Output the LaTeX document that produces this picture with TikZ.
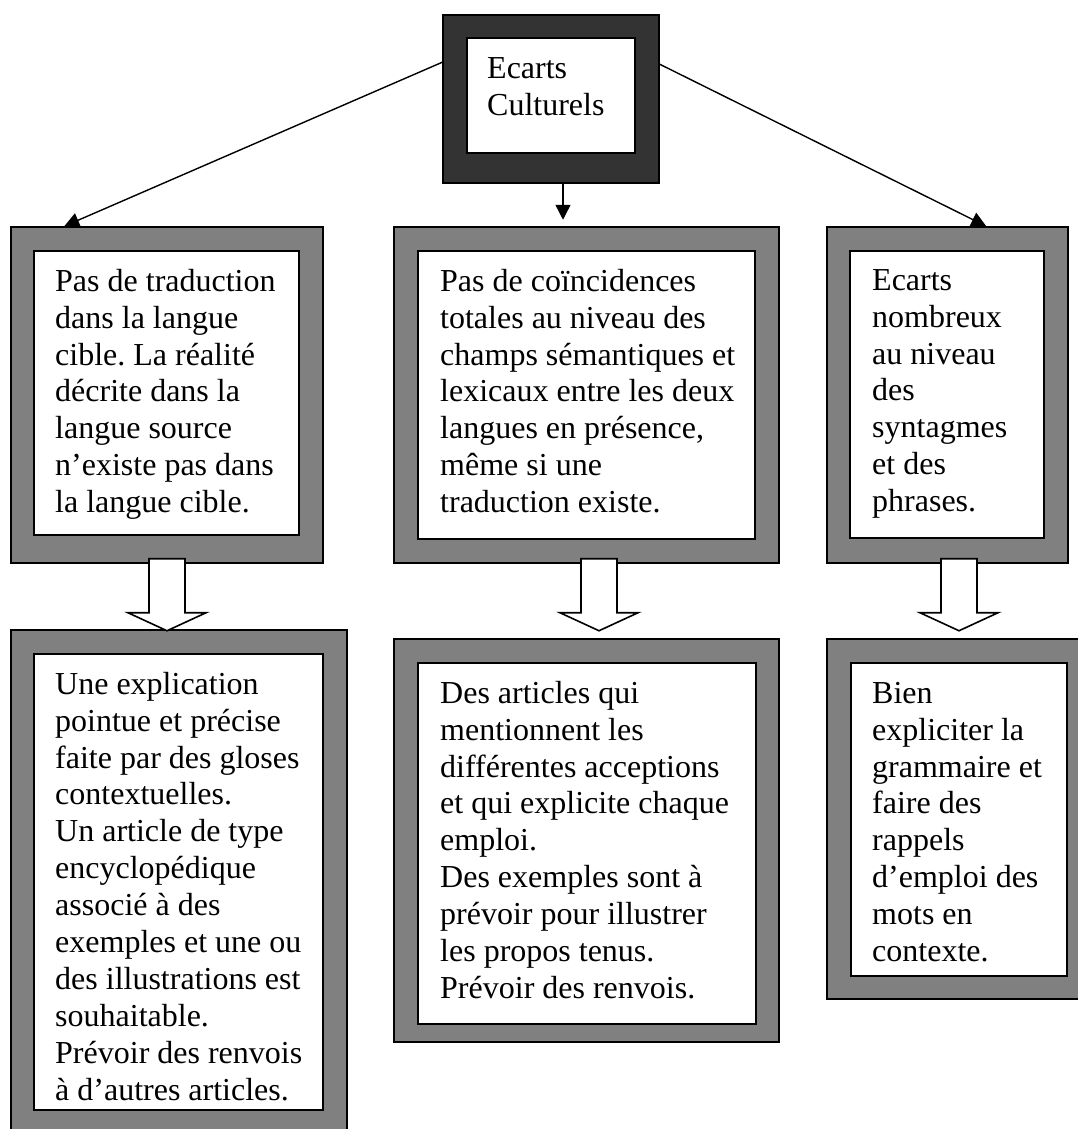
\documentclass[tikz,border=0pt]{standalone}
\usepackage{fontspec}
\setmainfont{Liberation Serif}
\usetikzlibrary{arrows.meta,calc}
\definecolor{framegray}{HTML}{808080}
\definecolor{framedark}{HTML}{333333}
\tikzset{
  outerframe/.style={draw=black, line width=1.5pt, fill=framegray, inner sep=0pt},
  darkframe/.style={outerframe, fill=framedark},
  innerframe/.style={draw=black, line width=1.8pt, fill=white, inner sep=0pt},
  txt/.style={anchor=north west, inner sep=0pt, align=left, font=\fontsize{32}{36.9}\selectfont},
  conn/.style={line width=1.4pt, -{Triangle[length=15pt,width=15pt]}},
  hollow/.style={draw=black, line width=1.6pt, fill=white, line join=miter},
}
\newcommand{\firstline}{\rule{0pt}{25pt}}
\frenchspacing
\begin{document}
\begin{tikzpicture}[x=1pt,y=-1pt]
\useasboundingbox (0,0) rectangle (1078,1129);
\clip (0,0) rectangle (1078,1129);

% top box
\node[darkframe, minimum width=216pt, minimum height=168pt] (T) at (551,99) {};
\node[innerframe, minimum width=168pt, minimum height=115pt] (Ti) at (551,95.5) {};
\node[txt] (Tt) at (487,53) {\firstline Ecarts\\Culturels};

% row 1
\node[outerframe, minimum width=312pt, minimum height=336pt] (L1) at (167,395) {};
\node[innerframe, minimum width=265pt, minimum height=284pt] (L1i) at (166.5,393) {};
\node[outerframe, minimum width=385pt, minimum height=336pt] (M1) at (586.5,395) {};
\node[innerframe, minimum width=337pt, minimum height=288pt] (M1i) at (586.5,395) {};
\node[outerframe, minimum width=241pt, minimum height=336pt] (R1) at (947.5,395) {};
\node[innerframe, minimum width=194pt, minimum height=287pt] (R1i) at (947,394.5) {};

\node[txt] (L1t) at (55,266) {\firstline Pas de traduction\\dans la langue\\cible. La réalité\\décrite dans la\\langue source\\n’existe pas dans\\la langue cible.};
\node[txt] (M1t) at (440,266) {\firstline Pas de coïncidences\\totales au niveau des\\champs sémantiques et\\lexicaux entre les deux\\langues en présence,\\même si une\\traduction existe.};
\node[txt] (R1t) at (872,265) {\firstline Ecarts\\nombreux\\au niveau\\des\\syntagmes\\et des\\phrases.};

% row 2
\node[outerframe, minimum width=336pt, minimum height=510pt] (L2) at (179,885) {};
\node[innerframe, minimum width=289pt, minimum height=456pt] (L2i) at (178.5,882) {};
\node[outerframe, minimum width=385pt, minimum height=403pt] (M2) at (586.5,840.5) {};
\node[innerframe, minimum width=338pt, minimum height=361pt] (M2i) at (587,843.5) {};
\node[outerframe, minimum width=255pt, minimum height=360pt] (R2) at (954.5,819) {};
\node[innerframe, minimum width=216pt, minimum height=313pt] (R2i) at (959,819.5) {};

\node[txt] (L2t) at (55,669) {\firstline Une explication\\pointue et précise\\faite par des gloses\\contextuelles.\\Un article de type\\encyclopédique\\associé à des\\exemples et une ou\\des illustrations est\\souhaitable.\\Prévoir des renvois\\à d’autres articles.};
\node[txt] (M2t) at (440,678) {\firstline Des articles qui\\mentionnent les\\différentes acceptions\\et qui explicite chaque\\emploi.\\Des exemples sont à\\prévoir pour illustrer\\les propos tenus.\\Prévoir des renvois.};
\node[txt] (R2t) at (872,678) {\firstline Bien\\expliciter la\\grammaire et\\faire des\\rappels\\d’emploi des\\mots en\\contexte.};

% connectors
\draw[conn] ([yshift=-48pt]T.north west) -- ([xshift=54pt]L1.north west);
\draw[conn] ([yshift=-50pt]T.north east) -- ([xshift=160pt]R1.north west);
\draw[conn] ([xshift=12pt]T.south) -- ([xshift=-23.5pt,yshift=6.5pt]M1.north);

% hollow arrows
\coordinate (a1) at ([yshift=5pt]L1.south);
\coordinate (a2) at ([xshift=12.5pt,yshift=5pt]M1.south);
\coordinate (a3) at ([xshift=11.5pt,yshift=5pt]R1.south);
\foreach \a in {a1,a2,a3}{
  \draw[hollow] ($(\a)+(-18,0)$) -- ($(\a)+(18,0)$) -- ($(\a)+(18,54)$) -- ($(\a)+(39,54)$)
    -- ($(\a)+(0,72)$) -- ($(\a)+(-39,54)$) -- ($(\a)+(-18,54)$) -- cycle;
}
\end{tikzpicture}
\end{document}
